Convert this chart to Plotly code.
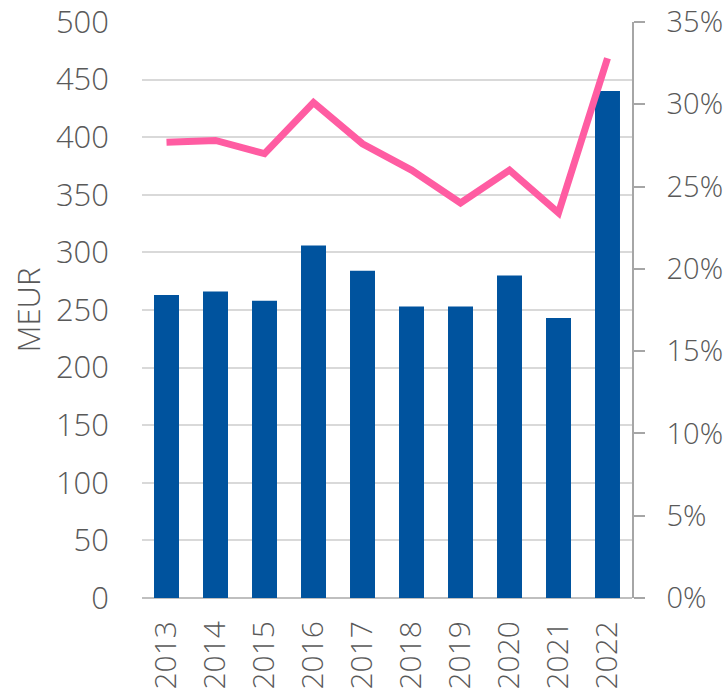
import plotly.graph_objects as go

years = ["2013", "2014", "2015", "2016", "2017", "2018", "2019", "2020", "2021", "2022"]
meur = [263, 266, 258, 306, 284, 253, 253, 280, 243, 440]
share = [0.277, 0.278, 0.270, 0.301, 0.276, 0.260, 0.240, 0.260, 0.234, 0.328]

font_family = "Open Sans, Noto Sans, sans-serif"
text_color = "#595959"
fs = 31

fig = go.Figure()
fig.add_trace(go.Bar(x=years, y=meur, marker=dict(color="#00539E", line=dict(width=0)),
                     yaxis="y", showlegend=False))
fig.add_trace(go.Scatter(x=years, y=share, mode="lines", yaxis="y2",
                         line=dict(color="#FF5CA2", width=7), showlegend=False))

tf = dict(size=fs, color=text_color, family=font_family, weight=300)
tf_x = dict(size=30, color=text_color, family=font_family, weight=300)
tf_r = dict(size=29, color=text_color, family=font_family, weight=300)

fig.update_layout(
    template="none",
    width=728, height=694,
    margin=dict(l=142, r=96, t=22, b=96, autoexpand=False),
    paper_bgcolor="white", plot_bgcolor="white",
    bargap=0.49,
    font=dict(family=font_family, color=text_color, size=fs),
    xaxis=dict(type="category", tickangle=-90, showgrid=False, showline=False, automargin=False,
               ticks="", ticklabelstandoff=16, tickfont=tf_x, ticklabeloverflow="allow"),
    yaxis=dict(range=[0, 500], dtick=50, showgrid=True, gridcolor="#D9D9D9", gridwidth=1.5,
               zeroline=True, zerolinecolor="#BFBFBF", zerolinewidth=1.5, automargin=False,
               showline=False, ticks="", ticklabelstandoff=32, ticklabeloverflow="allow",
               title=dict(text="MEUR", font=tf, standoff=6),
               tickfont=tf),
    yaxis2=dict(range=[0, 0.35], dtick=0.05, tickformat=".0%", overlaying="y", side="right",
                showgrid=False, zeroline=False, showline=True, linecolor="#A6A6A6", linewidth=1.5,
                automargin=False, ticklabeloverflow="allow",
                ticks="outside", ticklen=11, tickcolor="#A6A6A6", tickwidth=1.5,
                ticklabelstandoff=16, tickfont=tf_r),
)

fig.write_html("out.html", config={"displayModeBar": False},
               post_script="document.body.style.margin='0';document.body.style.overflow='hidden';")
